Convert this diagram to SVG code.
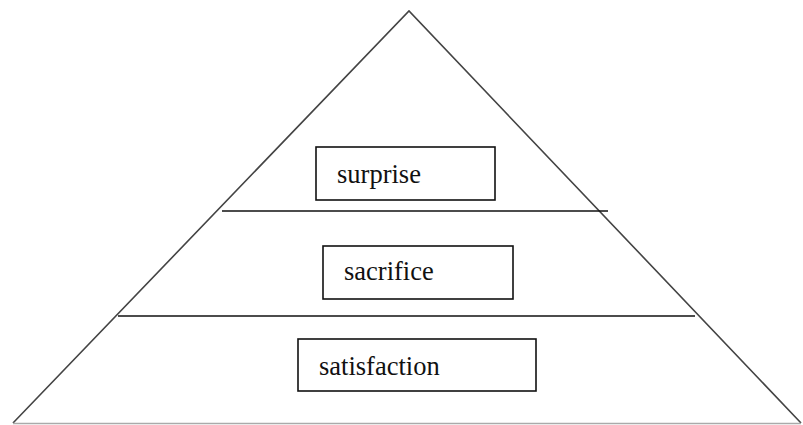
<svg xmlns="http://www.w3.org/2000/svg" width="803" height="425" viewBox="0 0 803 425">
  <style>
    .edge { fill: none; stroke: #444; stroke-width: 1.6; }
    .tier { stroke: #111; stroke-width: 1.5; }
    .box { fill: #fff; stroke: #111; stroke-width: 1.6; }
    .label { font-family: "Liberation Serif", "Times New Roman", serif; font-size: 26.5px; fill: #111; }
  </style>
  <rect width="803" height="425" fill="#fff"/>
  <g id="pyramid">
    <polyline class="edge" points="13,423 409,11 801,423"/>
    <line x1="13" y1="423.5" x2="801" y2="423.5" stroke="#aaa" stroke-width="1.5"/>
  </g>
  <g id="dividers">
    <line class="tier" x1="222" y1="211" x2="608" y2="211"/>
    <line class="tier" x1="118" y1="316" x2="695" y2="316"/>
  </g>
  <g id="surprise">
    <rect class="box" x="316" y="147" width="179" height="53"/>
    <text class="label" x="337" y="183">surprise</text>
  </g>
  <g id="sacrifice">
    <rect class="box" x="323" y="246" width="190" height="53"/>
    <text class="label" x="344" y="280">sacrifice</text>
  </g>
  <g id="satisfaction">
    <rect class="box" x="298" y="339" width="238" height="52"/>
    <text class="label" x="319" y="375">satisfaction</text>
  </g>
</svg>
